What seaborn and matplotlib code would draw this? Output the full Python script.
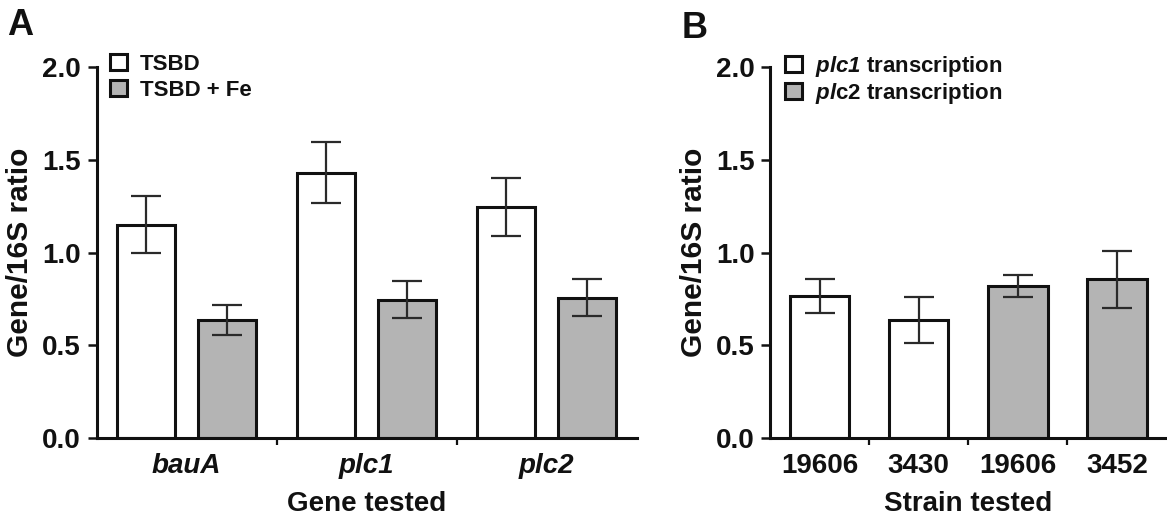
import numpy as np
import pandas as pd
import matplotlib
matplotlib.use("Agg")
import matplotlib.pyplot as plt
from matplotlib.ticker import FixedLocator
import seaborn as sns

# Panel A: gene expression under iron-limited vs iron-replete growth
genes = ["bauA", "plc1", "plc2"]
conditions = ["TSBD", "TSBD + Fe"]
tsbd_mean = [1.15, 1.43, 1.245]
tsbd_err = [0.155, 0.165, 0.155]
fe_mean = [0.635, 0.745, 0.755]
fe_err = [0.08, 0.10, 0.10]

# Panel B: plc1 / plc2 transcription across strains
strains = ["19606", "3430", "19606", "3452"]
transcripts = [r"$\mathsf{plc1}$ transcription", r"$\mathsf{plc1}$ transcription",
               r"$\mathsf{pl}$c2 transcription", r"$\mathsf{pl}$c2 transcription"]
strain_mean = [0.765, 0.635, 0.82, 0.855]
strain_err = [0.09, 0.125, 0.06, 0.155]

WHITE = "#ffffff"
GREY = "#b4b4b4"
INK = "#111111"
ERR = "#2a2a2a"

sns.set_theme(style="ticks")
plt.rcParams.update({
    "font.family": ["Liberation Sans", "DejaVu Sans"],
    "font.weight": "bold",
    "axes.labelweight": "bold",
    "mathtext.fontset": "custom",
    "mathtext.rm": "Liberation Sans:bold",
    "mathtext.it": "Liberation Sans:italic:bold",
    "mathtext.sf": "Liberation Sans:italic:bold",
    "mathtext.bf": "Liberation Sans:bold",
    "axes.linewidth": 2.2,
    "axes.edgecolor": INK,
    "text.color": INK,
    "axes.labelcolor": INK,
    "xtick.color": INK,
    "ytick.color": INK,
})

W, H = 1167, 519
fig = plt.figure(figsize=(W / 100, H / 100), dpi=100)
axA = fig.add_axes([96.5 / W, 1 - 438 / H, 540 / W, 371 / H])
axB = fig.add_axes([770 / W, 1 - 438 / H, 396.5 / W, 371 / H])

dfA = pd.DataFrame({
    "gene": genes * 2,
    "condition": [conditions[0]] * 3 + [conditions[1]] * 3,
    "ratio": tsbd_mean + fe_mean,
})
errA = {conditions[0]: tsbd_err, conditions[1]: fe_err}

sns.barplot(data=dfA, x="gene", y="ratio", hue="condition", order=genes,
            hue_order=conditions, palette=[WHITE, GREY], width=0.895, gap=0.28,
            edgecolor=INK, linewidth=2.2, errorbar=None, ax=axA)

for cont, cond in zip(axA.containers, conditions):
    xs = [p.get_x() + p.get_width() / 2 for p in cont.patches]
    ys = [p.get_height() for p in cont.patches]
    axA.errorbar(xs, ys, yerr=errA[cond], fmt="none", ecolor=ERR,
                 elinewidth=1.6, capsize=11, capthick=1.6, zorder=3)

dfB = pd.DataFrame({
    "slot": np.arange(len(strains)),
    "transcript": transcripts,
    "ratio": strain_mean,
})
sns.barplot(data=dfB, x="slot", y="ratio", hue="transcript", dodge=False,
            palette=[WHITE, GREY], width=0.6, edgecolor=INK, linewidth=2.2,
            errorbar=None, ax=axB)
bars = sorted([p for c in axB.containers for p in c.patches], key=lambda p: p.get_x())
xsB = [p.get_x() + p.get_width() / 2 for p in bars]
ysB = [p.get_height() for p in bars]
axB.errorbar(xsB, ysB, yerr=strain_err, fmt="none", ecolor=ERR,
             elinewidth=1.6, capsize=11, capthick=1.6, zorder=3)

def style_axis(ax, n, xlabel, italic):
    ax.set_xlim(-0.5, n - 0.5)
    ax.set_ylim(0, 2.0)
    ax.set_yticks([0, 0.5, 1.0, 1.5, 2.0])
    ax.set_yticklabels(["0.0", "0.5", "1.0", "1.5", "2.0"])
    ax.xaxis.set_minor_locator(FixedLocator(np.arange(0.5, n - 0.5, 1.0)))
    ax.tick_params(axis="x", which="major", length=0, pad=11, labelsize=20)
    ax.tick_params(axis="x", which="minor", length=5, width=1.6, direction="out")
    ax.tick_params(axis="y", which="major", length=6.8, width=1.8, pad=4.3, labelsize=20)
    for lab in ax.get_xticklabels() + ax.get_yticklabels():
        lab.set_fontweight("bold")
    if italic:
        for lab in ax.get_xticklabels():
            lab.set_fontstyle("italic")
    ax.set_xlabel(xlabel, fontsize=20, fontweight="bold")
    ax.set_ylabel("Gene/16S ratio", fontsize=21.5, fontweight="bold")
    sns.despine(ax=ax)

style_axis(axA, 3, "Gene tested", True)
axB.set_xticks(range(len(strains)))
axB.set_xticklabels(strains)
style_axis(axB, 4, "Strain tested", False)

axA.yaxis.set_label_coords(-(96.5 - 34) / 540, 0.5)
axB.yaxis.set_label_coords(-(770 - 708) / 396.5, 0.5)
axA.xaxis.set_label_coords(0.5, -(491 - 438) / 371)
axB.xaxis.set_label_coords(0.5, -(491 - 438) / 371)

def add_legend(ax, x0, spacing):
    handles, labels = ax.get_legend_handles_labels()
    ax.legend(handles, labels, loc="upper left", bbox_to_anchor=(x0, 1.035),
              frameon=False, fontsize=16, handlelength=0.75, handleheight=0.75,
              handletextpad=0.6, labelspacing=spacing, borderpad=0, borderaxespad=0)

add_legend(axA, 0.025, 0.22)
add_legend(axB, 0.038, 0.08)

fig.text(7 / W, 1 - 8 / H, "A", fontsize=26, fontweight="bold", va="top", ha="left")
fig.text(682 / W, 1 - 11 / H, "B", fontsize=26, fontweight="bold", va="top", ha="left")

fig.savefig("out.png", dpi=100)
